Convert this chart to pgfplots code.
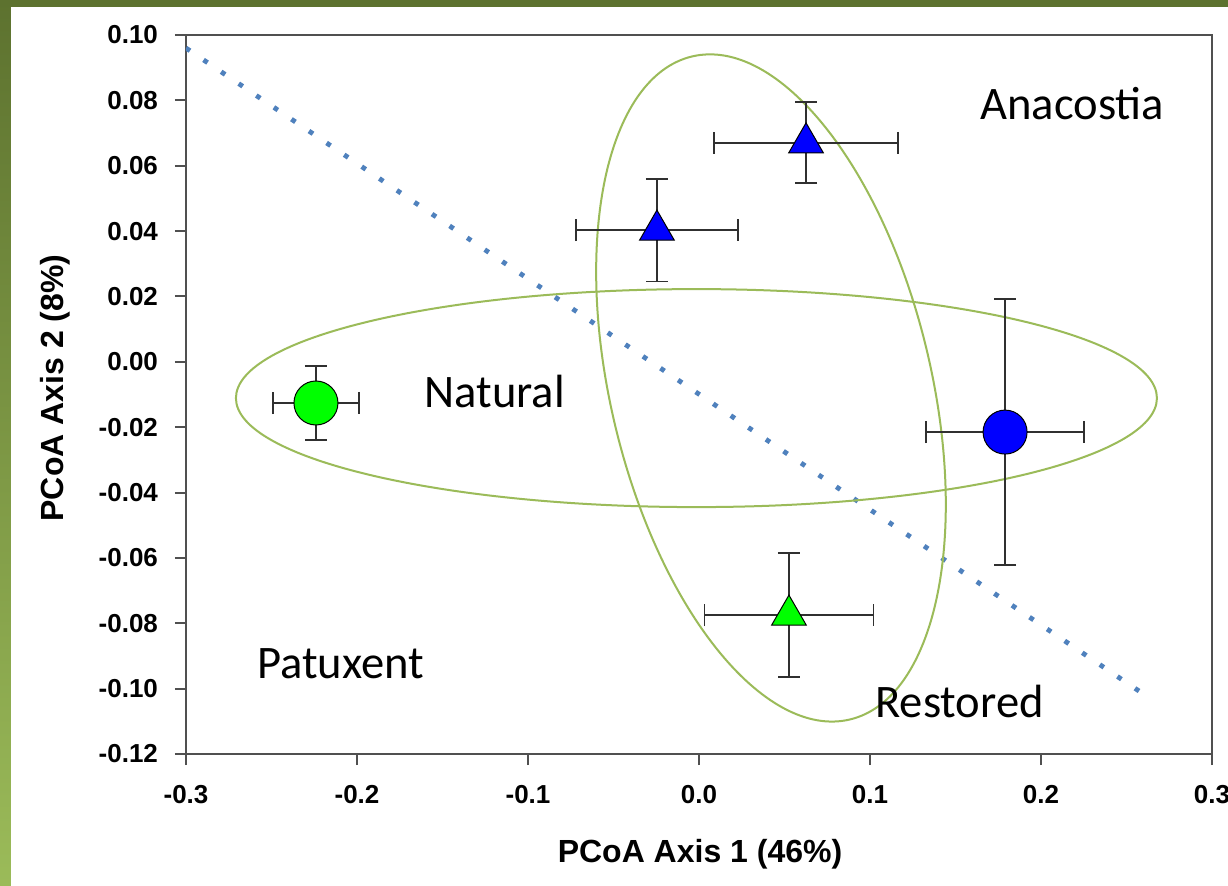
\documentclass[border=0pt]{standalone}
\usepackage{fontspec}
\setmainfont{Liberation Sans}
\newfontfamily\carlito{Carlito}
\usepackage{pgfplots}
\pgfplotsset{compat=1.18}
\definecolor{bandDark}{HTML}{5D722F}
\definecolor{bandLight}{HTML}{9BBB59}
\definecolor{ellGreen}{HTML}{9BBB59}
\definecolor{lineBlue}{HTML}{4F81BD}
\definecolor{axGray}{HTML}{505050}
\definecolor{errGray}{HTML}{303030}
\begin{document}
\begin{tikzpicture}
\fill[white] (-93pt,-65.5pt) rectangle (521pt,377pt);
\useasboundingbox (-93pt,-65.5pt) rectangle (521pt,377pt);
\shade[top color=bandDark, bottom color=bandLight] (-93pt,-65.5pt) rectangle (-87.5pt,377pt);
\fill[bandDark] (-93pt,373.5pt) rectangle (521pt,377pt);
\begin{axis}[
  at={(0pt,0pt)}, anchor=south west,
  scale only axis, width=513pt, height=359.5pt,
  xmin=-0.3, xmax=0.3, ymin=-0.12, ymax=0.10,
  xtick={-0.3,-0.2,-0.1,0,0.1,0.2,0.3},
  xticklabels={-0.3,-0.2,-0.1,0.0,0.1,0.2,0.3},
  ytick={-0.12,-0.1,-0.08,-0.06,-0.04,-0.02,0,0.02,0.04,0.06,0.08,0.1},
  yticklabels={-0.12,-0.10,-0.08,-0.06,-0.04,-0.02,0.00,0.02,0.04,0.06,0.08,0.10},
  xtick pos=left, ytick pos=left,
  tick align=outside, major tick length=5.5pt,
  axis line style={axGray, line width=1pt},
  tick style={axGray, line width=1pt},
  ticklabel style={font=\bfseries\fontsize{13}{15}\selectfont},
  xticklabel style={yshift=-6.5pt},
  yticklabel style={xshift=-5pt},
  xlabel={PCoA Axis 1 (46\%)},
  ylabel={PCoA Axis 2 (8\%)},
  every axis x label/.style={at={(axis description cs:0.501,-0.1391)}, anchor=center, font=\bfseries\fontsize{16}{19}\selectfont},
  every axis y label/.style={at={(axis description cs:-0.1277,0.509)}, anchor=center, rotate=90, font=\bfseries\fontsize{16}{19}\selectfont},
  error bars/error bar style={errGray, line width=0.9pt},
  error bars/error mark=|,
  error bars/error mark options={errGray, line width=0.9pt, mark size=5.5pt},
]
% dotted separating line
\addplot[lineBlue, line width=2.4pt, dash pattern=on 2.4pt off 8.2pt] coordinates {(-0.3,0.096) (0.2626,-0.1026)};
% ellipses
\draw[ellGreen, line width=1pt] (axis cs:-0.0015,-0.0111) ellipse [x radius=230.25pt, y radius=54.5pt];
\draw[ellGreen, line width=1pt, rotate around={13.4:(axis cs:0.0421,-0.008)}] (axis cs:0.0421,-0.008) ellipse [x radius=80.15pt, y radius=170.4pt];
% Anacostia triangles (blue)
\addplot[only marks, mark=triangle*, mark size=10pt, mark options={fill=blue, draw=black, line width=0.5pt},
  error bars/.cd, x dir=both, x explicit, y dir=both, y explicit]
  coordinates {(-0.0246,0.0403) +- (0.0473,0.0157) (0.0626,0.067) +- (0.054,0.0124)};
% Anacostia circle (blue)
\addplot[only marks, mark=*, mark size=11pt, mark options={fill=blue, draw=black, line width=0.5pt},
  error bars/.cd, x dir=both, x explicit, y dir=both, y explicit]
  coordinates {(0.179,-0.0215) +- (0.0463,0.0407)};
% Patuxent circle (green)
\addplot[only marks, mark=*, mark size=11pt, mark options={fill=green, draw=black, line width=0.5pt},
  error bars/.cd, x dir=both, x explicit, y dir=both, y explicit]
  coordinates {(-0.224,-0.0126) +- (0.025,0.0113)};
% Patuxent triangle (green)
\addplot[only marks, mark=triangle*, mark size=10pt, mark options={fill=green, draw=black, line width=0.5pt},
  error bars/.cd, x dir=both, x explicit, y dir=both, y explicit]
  coordinates {(0.0526,-0.0775) +- (0.0494,0.0189)};
% labels
\node[anchor=base west, inner sep=0pt, font=\carlito\fontsize{23.3}{28}\selectfont] at (axis cs:0.1643,0.074) {Anacostia};
\node[anchor=base west, inner sep=0pt, font=\carlito\fontsize{23.3}{28}\selectfont] at (axis cs:-0.1608,-0.0141) {Natural};
\node[anchor=base west, inner sep=0pt, font=\carlito\fontsize{23.3}{28}\selectfont] at (axis cs:-0.2585,-0.0968) {Patuxent};
\node[anchor=base west, inner sep=0pt, font=\carlito\fontsize{23.3}{28}\selectfont] at (axis cs:0.1029,-0.1087) {Restored};
\end{axis}
\end{tikzpicture}
\end{document}
